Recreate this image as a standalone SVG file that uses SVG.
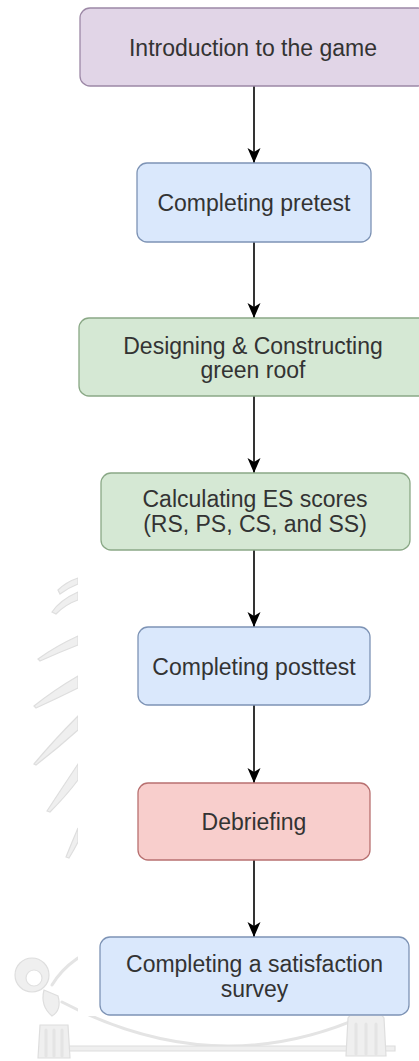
<svg xmlns="http://www.w3.org/2000/svg" width="419" height="1061" viewBox="0 0 419 1061">
  <defs>
    <style>
      .wm { fill: #efefef; stroke: #dedede; stroke-width: 1.2; }
      .wml { fill: none; stroke: #e4e4e4; stroke-width: 3; stroke-linecap: round; }
      .box { stroke-width: 1.3; }
      .purple { fill: #e1d5e7; stroke: #9c88a6; }
      .blue { fill: #dae8fc; stroke: #7d93b5; }
      .green { fill: #d5e8d4; stroke: #8aa886; }
      .red { fill: #f8cecc; stroke: #b87070; }
      .label { font-family: "Liberation Sans", Arial, sans-serif; font-size: 23px; fill: #333333; text-anchor: middle; }
      .edge { fill: none; stroke: #000000; stroke-width: 1.6; }
    </style>
    <marker id="arrow" viewBox="0 0 16 16" refX="15" refY="8" markerWidth="16" markerHeight="16" markerUnits="userSpaceOnUse" orient="auto">
      <path d="M0,1.5 L15,8 L0,14.5 L4,8 Z" fill="#000000"/>
    </marker>
  </defs>

  <rect width="419" height="1061" fill="#ffffff"/>

  <!-- faint emblem in the page background -->
  <g id="emblem">
    <!-- feathers on the left -->
    <path class="wm" d="M52,612 Q60,600 78,592 L78,600 Q66,604 56,614 Z"/>
    <path class="wm" d="M58,590 Q66,582 78,578 L78,584 Q68,588 60,594 Z"/>
    <path class="wm" d="M38,659 Q56,646 78,636 L78,645 Q60,652 40,661 Z"/>
    <path class="wm" d="M34,706 Q54,690 78,676 L78,688 Q58,698 36,708 Z"/>
    <path class="wm" d="M34,764 Q54,740 78,716 L78,730 Q58,748 36,765 Z"/>
    <path class="wm" d="M47,811 Q62,788 78,764 L78,780 Q66,796 50,812 Z"/>
    <path class="wm" d="M66,857 Q72,842 78,828 L78,842 Q74,850 69,858 Z"/>
    <!-- ribbon band at the bottom -->
    <path class="wml" d="M52,985 Q70,955 110,944"/>
    <path class="wml" d="M62,1002 Q230,1090 392,1002"/>
    <path class="wml" d="M380,985 Q395,962 360,946"/>
    <path class="wm" d="M60,1046 L395,1046 L395,1051 L60,1051 Z"/>
    <!-- left ribbon curl and tassel -->
    <circle class="wm" cx="32" cy="975" r="17"/>
    <circle cx="34" cy="978" r="8" fill="#ffffff" stroke="#e0e0e0" stroke-width="1.2"/>
    <path class="wm" d="M44,990 Q40,1006 52,1016 Q62,1010 58,996 Z"/>
    <path class="wm" d="M40,1025 L68,1025 L70,1058 L38,1058 Z"/>
    <path class="wml" d="M46,1030 L46,1056 M54,1030 L54,1056 M62,1030 L62,1056"/>
    <!-- right tassel -->
    <path class="wm" d="M356,1008 Q366,1002 376,1008 L384,1018 L386,1056 L346,1056 L348,1018 Z"/>
    <path class="wml" d="M356,1024 L356,1054 M366,1024 L366,1054 M376,1024 L376,1054"/>
  </g>

  <!-- chart background -->
  <rect x="78" y="0" width="341" height="1016" fill="#ffffff"/>

  <g id="connectors">
    <line class="edge" x1="254" y1="86" x2="254" y2="163" marker-end="url(#arrow)"/>
    <line class="edge" x1="254" y1="242" x2="254" y2="318" marker-end="url(#arrow)"/>
    <line class="edge" x1="254" y1="396" x2="254" y2="473" marker-end="url(#arrow)"/>
    <line class="edge" x1="254" y1="550" x2="254" y2="627" marker-end="url(#arrow)"/>
    <line class="edge" x1="254" y1="705" x2="254" y2="783" marker-end="url(#arrow)"/>
    <line class="edge" x1="254" y1="860" x2="254" y2="937" marker-end="url(#arrow)"/>
  </g>

  <g id="intro">
    <rect class="box purple" x="80" y="8" width="348" height="78" rx="10"/>
    <text class="label" x="253" y="55.5">Introduction to the game</text>
  </g>

  <g id="pretest">
    <rect class="box blue" x="137" y="163" width="234" height="79" rx="10"/>
    <text class="label" x="254" y="211">Completing pretest</text>
  </g>

  <g id="design">
    <rect class="box green" x="79" y="318" width="350" height="78" rx="10"/>
    <text class="label" x="253" y="354">Designing &amp; Constructing</text>
    <text class="label" x="253" y="378">green roof</text>
  </g>

  <g id="scores">
    <rect class="box green" x="101" y="473" width="309" height="77" rx="10"/>
    <text class="label" x="255" y="507">Calculating ES scores</text>
    <text class="label" x="255" y="532">(RS, PS, CS, and SS)</text>
  </g>

  <g id="posttest">
    <rect class="box blue" x="138" y="627" width="232" height="78" rx="10"/>
    <text class="label" x="254" y="674.5">Completing posttest</text>
  </g>

  <g id="debriefing">
    <rect class="box red" x="138" y="783" width="232" height="77" rx="10"/>
    <text class="label" x="254" y="830">Debriefing</text>
  </g>

  <g id="survey">
    <rect class="box blue" x="100" y="937" width="309" height="78" rx="10"/>
    <text class="label" x="254.5" y="972">Completing a satisfaction</text>
    <text class="label" x="254.5" y="997">survey</text>
  </g>
</svg>
